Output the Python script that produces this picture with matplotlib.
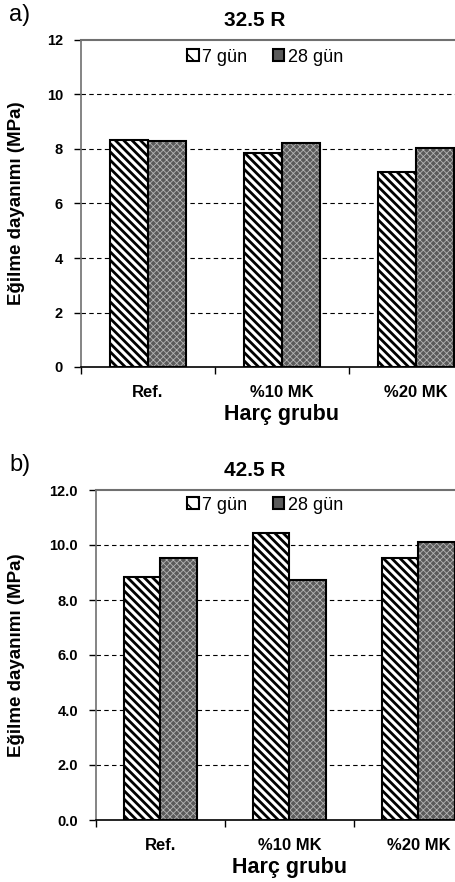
import matplotlib
matplotlib.use("Agg")
import matplotlib.pyplot as plt
import numpy as np

plt.rcParams["font.family"] = ["Liberation Sans", "DejaVu Sans"]

# Eğilme dayanımı (MPa)
gruplar = ["Ref.", "%10 MK", "%20 MK"]
seriler = ["7 gün", "28 gün"]
r325_7 = [8.32, 7.87, 7.17]
r325_28 = [8.28, 8.21, 8.02]
r425_7 = [8.83, 10.45, 9.53]
r425_28 = [9.53, 8.73, 10.12]

W, H = 456, 882
fig = plt.figure(figsize=(W / 100, H / 100), dpi=100)

x = np.arange(len(gruplar))
bw = 0.28
gri = "#5a5a5a"


def panel(rect, v7, v28, baslik, harf, fmt, leg_y, ylab_y):
    ax = fig.add_axes(rect)
    with plt.rc_context({"hatch.linewidth": 2.0}):
        ax.bar(x - bw / 2, v7, bw, color="white", edgecolor="black",
               hatch="\\\\\\\\", linewidth=1.5, zorder=3)
    with plt.rc_context({"hatch.linewidth": 0.6}):
        ax.bar(x + bw / 2, v28, bw, color=gri, edgecolor="#b4b4b4",
               hatch="xxxxx", linewidth=0, zorder=3)
    ax.bar(x + bw / 2, v28, bw, fill=False, edgecolor="black",
           linewidth=1.5, zorder=4)
    ax.set_xlim(-0.5, 2.5)
    ax.set_ylim(0, 12)
    ax.set_yticks(np.arange(0, 13, 2))
    ax.set_yticklabels([fmt.format(v) for v in np.arange(0, 13, 2)],
                       fontsize=10.5, fontweight="bold")
    ax.set_xticks(x)
    ax.set_xticklabels(gruplar, fontsize=12, fontweight="bold")
    ax.set_xticks([-0.5, 0.5, 1.5, 2.5], minor=True)
    ax.tick_params(axis="x", which="major", length=0, pad=13)
    ax.tick_params(axis="x", which="minor", length=5, width=1)
    ax.tick_params(axis="y", length=5, width=1, direction="out", pad=8)
    for g in np.arange(2, 12, 2):
        ax.axhline(g, color="black", linestyle=(0, (4, 3)), linewidth=0.8,
                   zorder=1)
    ax.spines["top"].set_color("#707070")
    ax.spines["top"].set_linewidth(1.5)
    ax.spines["left"].set_color("#707070")
    ax.spines["left"].set_linewidth(1.2)
    ax.spines["bottom"].set_linewidth(1.2)
    ax.spines["right"].set_visible(False)
    ax.set_xlabel("Harç grubu", fontsize=15.5, fontweight="bold", labelpad=3)

    pos = ax.get_position()
    fig.text(17 / W, ylab_y, "Eğilme dayanımı (MPa)", rotation=90,
             ha="center", va="center", fontsize=13.5, fontweight="bold")
    fig.text(255 / W, pos.y1 + 0.011, baslik, ha="center", va="bottom",
             fontsize=15, fontweight="bold")
    fig.text(0.02, pos.y1 + 0.016, harf, ha="left", va="bottom", fontsize=17)

    with plt.rc_context({"hatch.linewidth": 1.5}):
        h7 = plt.Rectangle((0, 0), 1, 1, facecolor="white", edgecolor="black",
                           hatch="\\\\", linewidth=1.5)
    h28 = plt.Rectangle((0, 0), 1, 1, facecolor=gri, edgecolor="black",
                        linewidth=1.5)
    ax.legend([h7, h28], seriler, loc="center", ncol=2, frameon=False,
              bbox_to_anchor=(265 / W, leg_y), bbox_transform=fig.transFigure,
              fontsize=13, handlelength=0.65, handleheight=0.65,
              handletextpad=0.2, columnspacing=1.4, borderpad=0)
    return ax


panel([81 / W, 1 - 367 / H, 402 / W, 327 / H], r325_7, r325_28,
      "32.5 R", "a)", "{:.0f}", 1 - 57 / H, 1 - 203 / H)
panel([96 / W, 1 - 820 / H, 387 / W, 330 / H], r425_7, r425_28,
      "42.5 R", "b)", "{:.1f}", 1 - 505 / H, 1 - 655 / H)

fig.savefig("out.png", dpi=100)
